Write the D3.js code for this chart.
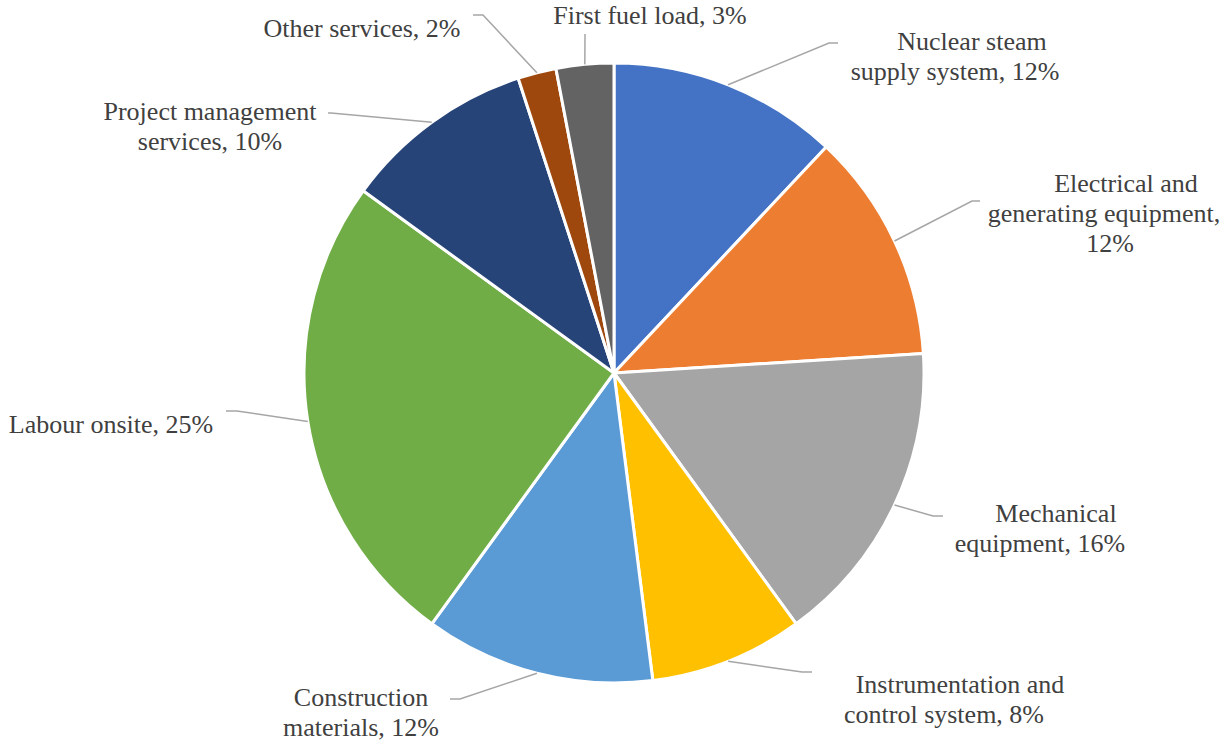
<!DOCTYPE html>
<html>
<head>
<meta charset="utf-8">
<script src="https://cdn.jsdelivr.net/npm/d3@7"></script>
<style>
  html, body { margin: 0; padding: 0; background: #fff; }
  svg { display: block; }
</style>
</head>
<body>
<svg id="chart" width="1228" height="742"></svg>
<script>
// Cost breakdown categories, clockwise from 12 o'clock
const categories = [
  "Nuclear steam supply system",
  "Electrical and generating equipment",
  "Mechanical equipment",
  "Instrumentation and control system",
  "Construction materials",
  "Labour onsite",
  "Project management services",
  "Other services",
  "First fuel load"
];
// Share of total cost, percent
const shares = [12, 12, 16, 8, 12, 25, 10, 2, 3];
const colors = ["#4472C4", "#ED7D31", "#A5A5A5", "#FFC000", "#5B9BD5",
                "#70AD47", "#264478", "#9E480E", "#636363"];

// Label placement: words per line, centre x of each line, first baseline,
// and the leader line's elbow / end points.
const labelLayout = [
  { words: [2, 4],    x: [972, 955],        y: 50,  leader: [[829, 43], [838, 43]] },
  { words: [2, 2, 1], x: [1126, 1104, 1110], y: 192, leader: [[972, 201], [980, 201]] },
  { words: [1, 2],    x: [1056, 1040],      y: 522, leader: [[933, 516], [943, 516]] },
  { words: [2, 3],    x: [960, 944],        y: 693, leader: [[802, 672], [812, 672]] },
  { words: [1, 2],    x: [361, 361],        y: 706, leader: [[460, 699], [450, 699]] },
  { words: [3],       x: [111],             y: 433, leader: [[237, 411], [226, 411]] },
  { words: [2, 2],    x: [210, 210],        y: 120, leader: [[331, 113], [328, 113]] },
  { words: [3],       x: [362],             y: 37,  leader: [[483, 15], [473, 15]] },
  { words: [4],       x: [650],             y: 24,  leader: [[585, 34]] }
];
const lineHeight = 30;
const labelFont = "'Liberation Serif', 'DejaVu Serif', serif";

const cx = 614, cy = 373, radius = 310;

const svg = d3.select("#chart");
const g = svg.append("g").attr("transform", `translate(${cx},${cy})`);

const data = categories.map((c, i) => ({ name: c, value: shares[i], i }));
const pie = d3.pie().sort(null).value(d => d.value);
const arcs = pie(data);
const arc = d3.arc().innerRadius(0).outerRadius(radius);

g.selectAll("path.slice")
  .data(arcs)
  .join("path")
  .attr("class", "slice")
  .attr("d", arc)
  .attr("fill", d => colors[d.data.i])
  .attr("stroke", "#fff")
  .attr("stroke-width", 3)
  .attr("stroke-linejoin", "round");

// Leader lines from the slice rim at its mid-angle
const leaders = svg.append("g");
arcs.forEach((d, k) => {
  const a = (d.startAngle + d.endAngle) / 2;
  const start = [cx + radius * Math.sin(a), cy - radius * Math.cos(a)];
  const pts = [start, ...labelLayout[k].leader];
  leaders.append("polyline")
    .attr("points", pts.map(p => p.join(",")).join(" "))
    .attr("fill", "none")
    .attr("stroke", "#A6A6A6")
    .attr("stroke-width", 1.5);
});

// Labels: "Category, NN%" wrapped into lines
const labels = svg.append("g")
  .attr("font-family", labelFont)
  .attr("font-size", 26)
  .attr("fill", "#404040");
arcs.forEach((d, k) => {
  const lay = labelLayout[k];
  const words = `${d.data.name}, ${d.data.value}%`.split(" ");
  let idx = 0;
  lay.words.forEach((n, li) => {
    const line = words.slice(idx, idx + n).join(" ");
    idx += n;
    labels.append("text")
      .attr("x", lay.x[li])
      .attr("y", lay.y + li * lineHeight)
      .attr("text-anchor", "middle")
      .text(line);
  });
});
</script>
</body>
</html>
